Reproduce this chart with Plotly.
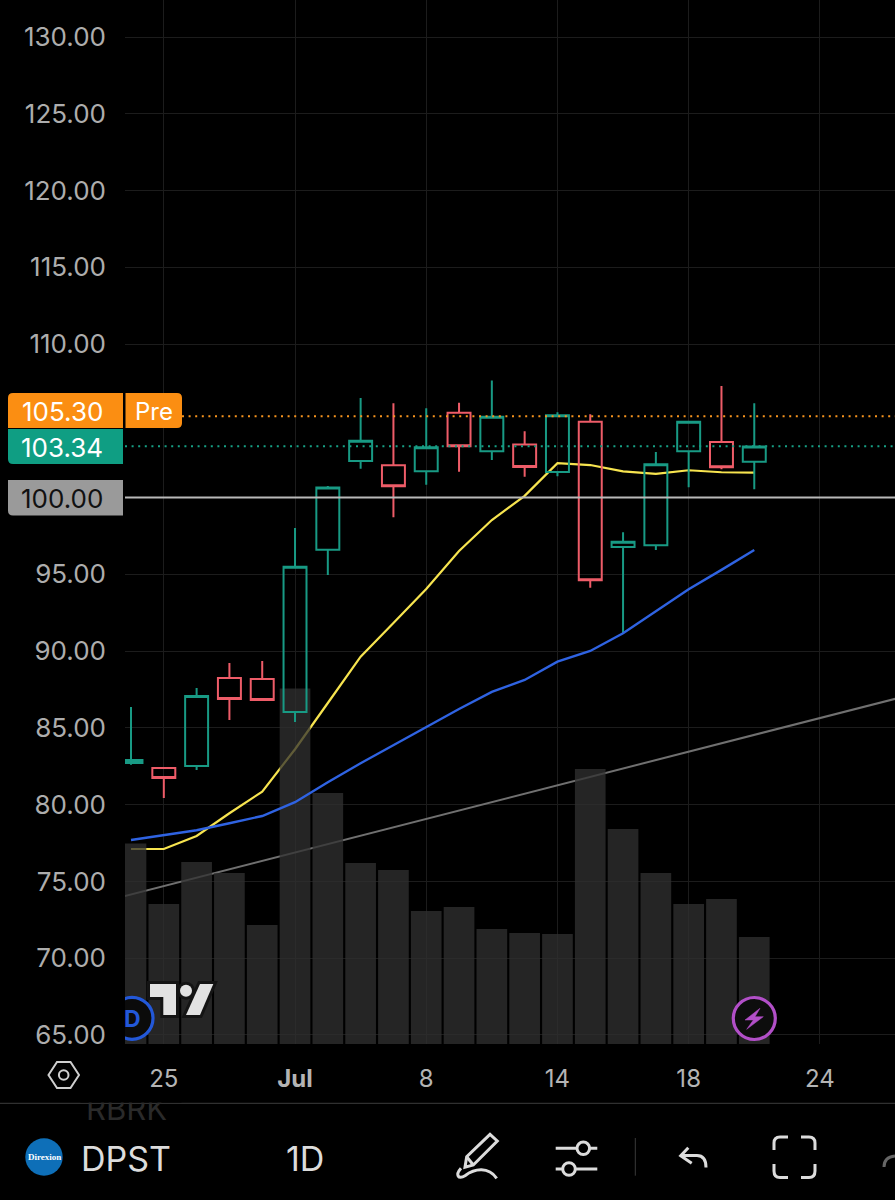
import plotly.graph_objects as go

# trading days, the last few are the empty future part of the time axis
dates = ["06-23", "06-24", "06-25", "06-26", "06-27", "06-30", "07-01", "07-02", "07-03",
         "07-07", "07-08", "07-09", "07-10", "07-11", "07-14", "07-15", "07-16", "07-17",
         "07-18", "07-21", "07-22", "07-23", "07-24", "07-25", "07-28", "07-29"]
candle_dates = dates[1:21]

opens = [82.72, 82.39, 82.52, 88.25, 88.19, 86.04, 96.61, 102.39, 102.10, 101.71,
         105.53, 103.02, 103.45, 101.67, 104.94, 96.78, 96.89, 103.02, 103.62, 102.34]
highs = [86.36, 82.40, 87.60, 89.23, 89.36, 98.02, 100.76, 106.49, 106.14, 105.82,
         106.18, 107.62, 104.32, 105.56, 105.43, 97.74, 102.97, 104.94, 107.27, 106.14]
lows = [82.60, 80.44, 82.26, 85.52, 86.80, 85.39, 94.96, 101.88, 98.72, 100.84,
        101.69, 102.45, 101.36, 101.39, 94.13, 91.16, 96.59, 100.67, 101.84, 100.54]
closes = [82.91, 81.74, 87.08, 86.88, 86.82, 95.50, 100.65, 103.71, 100.74, 103.28,
          103.34, 105.27, 102.00, 105.36, 94.62, 97.13, 102.17, 104.94, 101.97, 103.32]

ma_fast = [77.11, 77.11, 77.96, 79.44, 80.85, 83.61, 86.62, 89.64, 91.83, 94.05,
           96.52, 98.54, 100.11, 102.24, 102.12, 101.71, 101.54, 101.78, 101.65, 101.62]
ma_slow = [77.70, 78.03, 78.33, 78.79, 79.26, 80.16, 81.46, 82.70, 83.89, 85.08,
           86.23, 87.34, 88.12, 89.31, 90.01, 91.16, 92.57, 94.03, 95.29, 96.59]
volumes = [401, 280, 364, 342, 238, 711, 502, 362, 348, 266,
           274, 230, 222, 220, 550, 430, 342, 280, 290, 214]

trend_dates = ["06-23", "07-29"]
trend_values = [73.60, 87.28]

price_ticks = [65, 70, 75, 80, 85, 90, 95, 110, 115, 120, 125, 130]
date_ticks = ["06-25", "07-01", "07-08", "07-14", "07-18", "07-24"]
date_labels = ["25", "<b>Jul</b>", "8", "14", "18", "24"]

W, H = 895, 1200
GREEN = "#189a84"
RED = "#ee5c68"
ORANGE = "#fb8e12"
TEAL = "#0f9e83"
FONT = "Inter"
hollow = "rgba(0,0,0,0)"


def fx(x):
    return x / W


def fy(y):
    return 1 - y / H


# path written in picture pixels -> paper coordinates
def px_path(s):
    out = []
    is_x = True
    for tok in s.split():
        if tok.isalpha():
            out.append(tok)
        elif is_x:
            out.append(f"{fx(float(tok)):.5f}")
            is_x = False
        else:
            out.append(f"{fy(float(tok)):.5f}")
            is_x = True
    return " ".join(out)


def icon(s, color="#dcdcdc", width=3, fill=hollow):
    return dict(type="path", xref="paper", yref="paper", path=px_path(s), layer="above",
                line=dict(color=color, width=width), fillcolor=fill)


def circle(cx, cy, r, color, width=3, fill="#000000"):
    return dict(type="circle", xref="paper", yref="paper", layer="above",
                x0=fx(cx - r), x1=fx(cx + r), y0=fy(cy + r), y1=fy(cy - r),
                line=dict(color=color, width=width), fillcolor=fill)


def box(s, fill):
    return dict(type="path", xref="paper", yref="paper", path=px_path(s), layer="above",
                line=dict(width=0), fillcolor=fill)


def label(text, x, y, size=26, color="#ffffff", anchor="center", family=FONT):
    return dict(text=text, x=fx(x), y=fy(y), xref="paper", yref="paper", xanchor=anchor,
                yanchor="middle", showarrow=False, font=dict(family=family, size=size, color=color))


fig = go.Figure()

# under the volume bars
fig.add_trace(go.Scatter(x=trend_dates, y=trend_values, mode="lines", yaxis="y",
                         line=dict(color="#707070", width=2)))
fig.add_trace(go.Scatter(x=candle_dates, y=ma_fast, mode="lines", yaxis="y",
                         line=dict(color="#f7e44f", width=2.2)))

fig.add_trace(go.Bar(x=candle_dates, y=volumes, yaxis="y2", marker=dict(color="rgba(48,48,48,0.76)", line=dict(width=0))))

# over the volume bars
fig.add_trace(go.Scatter(x=candle_dates, y=ma_slow, mode="lines", yaxis="y3",
                         line=dict(color="#2f63e2", width=2.4)))
fig.add_trace(go.Candlestick(x=candle_dates, open=opens, high=highs, low=lows, close=closes, yaxis="y3",
                             whiskerwidth=0,
                             increasing=dict(line=dict(color=GREEN, width=2), fillcolor=hollow),
                             decreasing=dict(line=dict(color=RED, width=2), fillcolor=hollow)))

shapes = [
    # price lines
    dict(type="line", xref="paper", yref="y", x0=fx(182), x1=1, y0=105.30, y1=105.30, layer="above",
         line=dict(color="#f7941e", width=2, dash="2px,4.6px")),
    dict(type="line", xref="paper", yref="y", x0=fx(125), x1=1, y0=103.34, y1=103.34, layer="above",
         line=dict(color="#17a085", width=2, dash="2px,4.6px")),
    dict(type="line", xref="paper", yref="y", x0=fx(125), x1=1, y0=100, y1=100, layer="above",
         line=dict(color="#b9b9b9", width=2)),
    # price tags
    box("M 8 428 L 8 398 Q 8 393 13 393 L 123 393 L 123 428 Z", ORANGE),
    box("M 125.5 393 L 177 393 Q 182 393 182 398 L 182 423 Q 182 428 177 428 L 125.5 428 Z", ORANGE),
    box("M 8 429 L 123 429 L 123 464 L 13 464 Q 8 464 8 459 Z", TEAL),
    box("M 8 480 L 123 480 L 123 515.5 L 13 515.5 Q 8 515.5 8 510.5 Z", "#9a9a9a"),
    # bottom bar
    dict(type="line", xref="paper", yref="paper", x0=0, x1=1, y0=fy(1103.3), y1=fy(1103.3), layer="above",
         line=dict(color="#3c3c3c", width=1)),
    # settings hexagon
    icon("M 48.5 1075 L 57 1062 L 70.5 1062 L 79 1075 L 70.5 1088 L 57 1088 Z", "#cfcfcf", 2),
    circle(63.7, 1075, 4.8, "#cfcfcf", 2),
    # dividend badge
    circle(132, 1018.3, 21, "#2358d8", 3.2, "#0b0b0b"),
    box("M 105.5 990 L 125 990 L 125 1044 L 105.5 1044 Z", "#000000"),
    # tradingview mark
    icon("M 150 984 L 176 984 L 176 1015 L 163.3 1015 L 163.3 997 L 150 997 Z", "#141414", 6, "#141414"),
    circle(186, 990.7, 6, "#141414", 6, "#141414"),
    icon("M 200 984 L 213.3 984 L 200 1015 L 186 1015 Z", "#141414", 6, "#141414"),
    icon("M 150 984 L 176 984 L 176 1015 L 163.3 1015 L 163.3 997 L 150 997 Z", "#e2e2e2", 0, "#e2e2e2"),
    circle(186, 990.7, 6, "#e2e2e2", 0, "#e2e2e2"),
    icon("M 200 984 L 213.3 984 L 200 1015 L 186 1015 Z", "#e2e2e2", 0, "#e2e2e2"),
    # lightning badge
    circle(754.3, 1018.5, 21, "#b24fc8", 3.2, "#0d0d0d"),
    icon("M 760 1008.3 L 745 1020 L 753.3 1020 L 746.7 1029.3 L 763.3 1016.7 L 755 1016.7 Z",
         "#b24fc8", 0.5, "#b24fc8"),
    # logo
    circle(44, 1157, 18.7, "#0e6fb8", 0, "#0e6fb8"),
    # pencil
    icon("M 490 1134.3 L 497.3 1141 L 473.3 1165 L 465 1167.3 L 466.7 1156.7 Z"),
    icon("M 466.7 1156.7 L 473.3 1165"),
    icon("M 461 1168.3 C 455 1175 458.3 1180 465 1175.7 C 475 1168.3 488.3 1166.7 496.7 1178.3"),
    # sliders
    icon("M 555.7 1148.3 L 597.3 1148.3"),
    circle(583.3, 1148.3, 6.3, "#dcdcdc", 3),
    icon("M 555.7 1169 L 597.3 1169"),
    circle(569, 1169, 6.3, "#dcdcdc", 3),
    icon("M 635.3 1138 L 635.3 1175.7", "#3a3a3a", 1),
    # undo
    icon("M 688.3 1147.7 L 680.7 1155.7 L 691.7 1163.3"),
    icon("M 681 1155.5 L 697 1155.5 C 703 1155.5 706 1160 706 1167.6"),
    # fullscreen
    icon("M 774 1150 L 774 1143 Q 774 1137 780 1137 L 788 1137"),
    icon("M 801 1137 L 809 1137 Q 815 1137 815 1143 L 815 1150"),
    icon("M 774 1164 L 774 1171 Q 774 1177.5 780 1177.5 L 788 1177.5"),
    icon("M 801 1177.5 L 809 1177.5 Q 815 1177.5 815 1171 L 815 1164"),
    icon("M 884 1167 Q 884 1157 895 1156", "#666666"),
]

annotations = [
    label("105.30", 105, 411, anchor="right"),
    label("Pre", 153.5, 411, size=24),
    label("103.34", 105, 447, anchor="right"),
    label("100.00", 105, 498, color="#111111", anchor="right"),
    label("<b>D</b>", 132.5, 1018.5, size=23, color="#2358d8"),
    label("<b>Direxion</b>", 44, 1157, size=9, family="Liberation Serif"),
    # list rows scrolled behind the bar, cut by a black patch
    label("RBRK", 126.5, 1108.5, size=31, color="#2a2a2a"),
    dict(text=" ", x=fx(80), y=fy(1103), xref="paper", yref="paper", xanchor="left", yanchor="bottom",
         showarrow=False, bgcolor="#000000", width=100, height=12, borderpad=0),
    label("DPST", 126, 1158, size=34, color="#dcdcdc"),
    label("1D", 305, 1158, size=34, color="#dcdcdc"),
]

axis_font = dict(family=FONT, size=26, color="#adadad")
fig.update_layout(
    width=W, height=H,
    margin=dict(l=0, r=0, t=0, b=0),
    paper_bgcolor="#000000", plot_bgcolor="#000000",
    showlegend=False,
    bargap=0.065,
    boxgap=0.3, boxgroupgap=0,
    xaxis=dict(type="category", categoryorder="array", categoryarray=dates, automargin=False,
               domain=[125 / W, 1], range=[0.817, 24.29], rangeslider=dict(visible=False),
               tickmode="array", tickvals=date_ticks, ticktext=date_labels,
               tickfont=dict(family=FONT, size=24, color="#b4b4b4"),
               ticks="", ticklabelstandoff=18,
               showgrid=True, gridcolor="#1c1c1c", gridwidth=1, zeroline=False, showline=False),
    yaxis=dict(domain=[156 / H, 1], range=[64.41, 132.41], tickmode="array", tickvals=price_ticks,
               ticktext=[f"{v:.2f}" for v in price_ticks], tickfont=axis_font, automargin=False,
               ticks="", ticklabelstandoff=18,
               showgrid=True, gridcolor="#1c1c1c", gridwidth=1, zeroline=False, showline=False),
    yaxis2=dict(overlaying="y", range=[0, 2088], visible=False),
    yaxis3=dict(overlaying="y", range=[64.41, 132.41], visible=False),
    shapes=shapes,
    annotations=annotations,
)

fig.write_html("out.html", config={"displayModeBar": False},
               post_script="document.body.style.margin='0';document.body.style.overflow='hidden';")
